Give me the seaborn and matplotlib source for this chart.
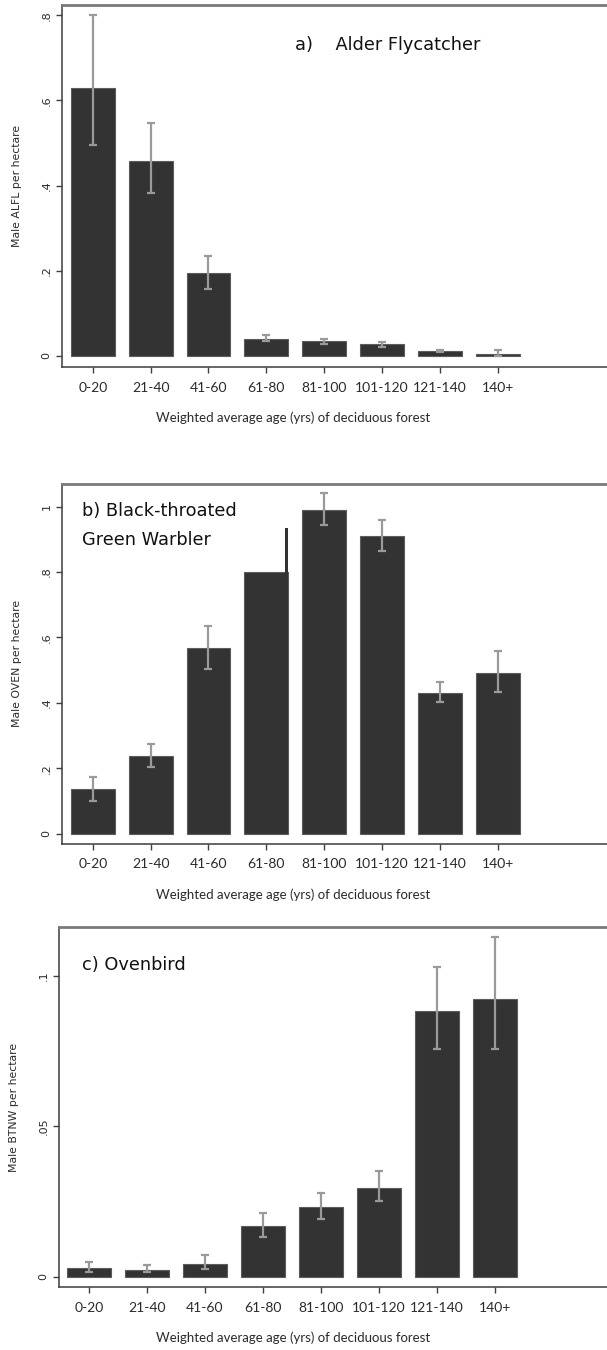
import matplotlib
matplotlib.use("Agg")
import matplotlib.pyplot as plt
import seaborn as sns
import numpy as np

# Forest age classes shared by all three panels
age_classes = ["0-20", "21-40", "41-60", "61-80", "81-100", "101-120", "121-140", "140+"]

# a) Alder Flycatcher: mean males per hectare and CI bounds
alfl_mean = [0.629, 0.457, 0.194, 0.039, 0.0345, 0.0275, 0.012, 0.004]
alfl_lo = [0.495, 0.382, 0.158, 0.034, 0.029, 0.021, 0.009, 0.000]
alfl_hi = [0.800, 0.547, 0.235, 0.048, 0.040, 0.033, 0.014, 0.014]

# b) Black-throated Green Warbler (OVEN axis label as printed)
oven_mean = [0.135, 0.237, 0.566, 0.800, 0.991, 0.910, 0.431, 0.492]
oven_lo = [0.100, 0.204, 0.503, np.nan, 0.943, 0.865, 0.403, 0.432]
oven_hi = [0.174, 0.273, 0.635, np.nan, 1.040, 0.960, 0.462, 0.559]
oven_6180_peak = 0.934

# c) Ovenbird (BTNW axis label as printed)
btnw_mean = [0.0028, 0.0023, 0.0041, 0.0170, 0.0233, 0.0295, 0.0884, 0.0923]
btnw_lo = [0.0015, 0.0015, 0.0026, 0.0132, 0.0192, 0.0251, 0.0758, 0.0756]
btnw_hi = [0.0050, 0.0039, 0.0071, 0.0211, 0.0279, 0.0353, 0.1030, 0.1131]

sns.set_style("white")
plt.rcParams["font.family"] = ["DejaVu Sans"]

W, H = 607, 1350
fig = plt.figure(figsize=(W / 100, H / 100), dpi=100)

BAR = "#333333"
ERR = "#9a9a9a"
TXT = "#2a2a2a"
BW = 0.76


def add_axes(left_px, top_px, bottom_px, right_px=622):
    return fig.add_axes([left_px / W, 1 - bottom_px / H,
                         (right_px - left_px) / W, (bottom_px - top_px) / H])


def panel(ax, mean, lo, hi, yticks, ylabels, ylim, xlim, ylabel):
    sns.barplot(x=age_classes, y=mean, color=BAR, saturation=1, width=BW,
                errorbar=None, edgecolor="#5c5c5c", linewidth=0.8, ax=ax)
    pos = np.arange(len(age_classes))
    m = np.array(mean)
    yerr = np.vstack([m - np.array(lo), np.array(hi) - m])
    ax.errorbar(pos, m, yerr=yerr, fmt="none", ecolor=ERR, elinewidth=1.6,
                capsize=3.2, capthick=1.6, zorder=5)
    ax.set_xlim(*xlim)
    ax.set_ylim(*ylim)
    ax.set_yticks(yticks)
    ax.set_yticklabels(ylabels, rotation=90, va="center",
                       fontsize=8, color=TXT)
    ax.set_xticks(pos)
    ax.set_xticklabels(age_classes, fontfamily="Lato", fontsize=10, color=TXT)
    ax.tick_params(axis="both", length=4.5, width=1, color="#404040",
                   direction="out", bottom=True, left=True)
    ax.tick_params(axis="y", pad=3)
    ax.tick_params(axis="x", pad=6)
    ax.set_ylabel(ylabel, fontsize=7.8, color=TXT, labelpad=14)
    ax.set_xlabel("Weighted average age (yrs) of deciduous forest",
                  fontfamily="Lato", fontsize=9.5, color=TXT, labelpad=13)
    ax.xaxis.label.set_x((293 - ax.get_position().x0 * W) /
                         (ax.get_position().width * W))
    for side in ("left", "bottom"):
        ax.spines[side].set_color("#3c3c3c")
        ax.spines[side].set_linewidth(1.1)
    ax.spines["top"].set_color("#7a7a7a")
    ax.spines["top"].set_linewidth(2)
    ax.spines["right"].set_visible(False)


def label(x_px, y_px, text):
    fig.text(x_px / W, 1 - y_px / H, text, fontsize=12.8,
             color="#111111", va="center", ha="left")


# Panel a
ax1 = add_axes(62, 5, 367)
panel(ax1, alfl_mean, alfl_lo, alfl_hi,
      [0, 0.2, 0.4, 0.6, 0.8], ["0", ".2", ".4", ".6", ".8"],
      (-0.026, 0.824), (-0.533, 9.15), "Male ALFL per hectare")
label(295, 45, "a)    Alder Flycatcher")

# Panel b
ax2 = add_axes(62, 484, 843.7)
panel(ax2, oven_mean, oven_lo, oven_hi,
      [0, 0.2, 0.4, 0.6, 0.8, 1.0], ["0", ".2", ".4", ".6", ".8", "1"],
      (-0.031, 1.069), (-0.533, 9.15), "Male OVEN per hectare")
# narrow raised strip on the right edge of the 61-80 bar
sliver = 0.064
ax2.bar(3 + BW / 2 - sliver / 2, oven_6180_peak, width=sliver, color=BAR,
        linewidth=0, zorder=3)
label(82, 511, "b) Black-throated")
label(82, 540, "Green Warbler")

# Panel c
ax3 = add_axes(58.7, 926.7, 1287.3)
panel(ax3, btnw_mean, btnw_lo, btnw_hi,
      [0, 0.05, 0.1], ["0", ".05", ".1"],
      (-0.0035, 0.1164), (-0.527, 9.2), "Male BTNW per hectare")
label(82, 965, "c) Ovenbird")

fig.savefig("out.png", dpi=100)
